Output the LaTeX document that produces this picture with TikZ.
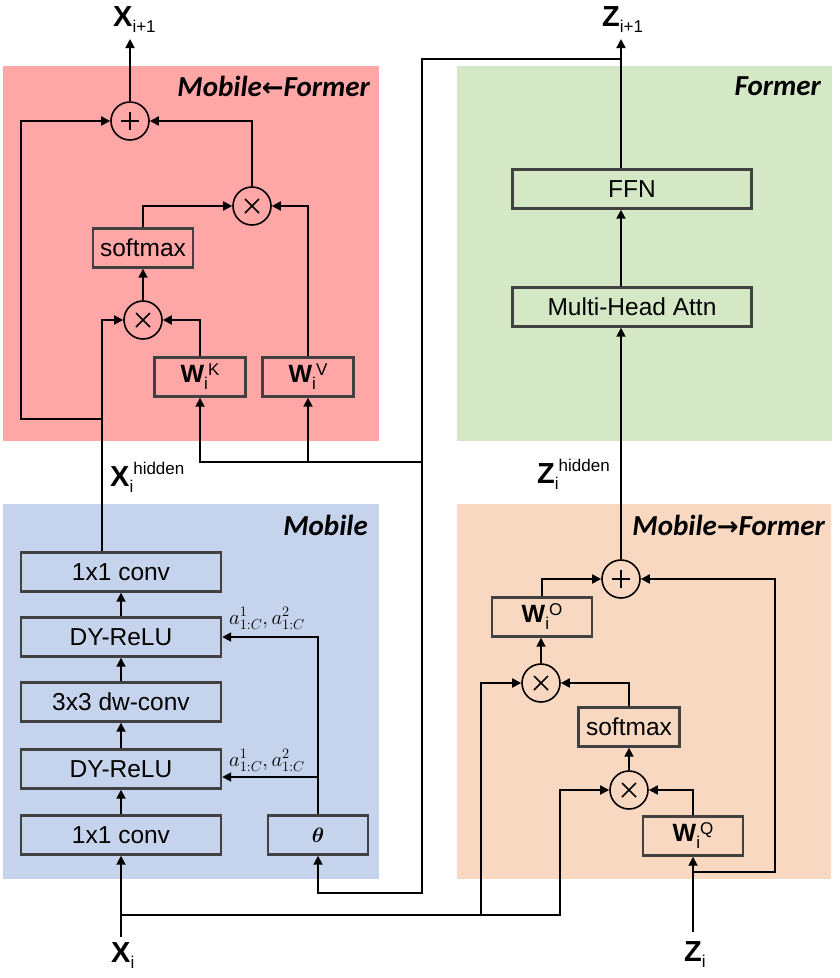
\documentclass[tikz,border=0pt]{standalone}
\usepackage{fontspec}
\usepackage{bm}
\setmainfont{Liberation Sans}
\newfontfamily\calib{Carlito}
\newfontfamily\djv{DejaVu Sans}
\usetikzlibrary{arrows.meta}
\definecolor{redbg}{HTML}{FFA6A6}
\definecolor{greenbg}{HTML}{D5E8C6}
\definecolor{bluebg}{HTML}{C6D3EC}
\definecolor{orangebg}{HTML}{F8D8C1}
\definecolor{boxc}{HTML}{414141}
\newcommand{\bigsym}[3]{{\fontsize{29}{29}\selectfont\bfseries #1}\raisebox{-6pt}{\fontsize{17}{17}\selectfont #2}\raisebox{12pt}{\fontsize{17}{17}\selectfont #3}}
\newcommand{\wsym}[1]{{\fontsize{25}{25}\selectfont\bfseries W}\raisebox{-7pt}{\fontsize{17}{17}\selectfont i}\raisebox{7pt}{\fontsize{17}{17}\selectfont #1}}
\begin{document}
\begin{tikzpicture}[x=1pt,y=-1pt,
  arr/.style={-{Triangle[length=9pt,width=9pt]}, line width=1.8pt},
  box/.style={draw=boxc, line width=2.4pt, inner sep=0pt, minimum height=39pt, font=\fontsize{24.5}{24.5}\selectfont},
  opc/.style={circle, draw=black, line width=1.6pt, minimum size=38pt, inner sep=0pt},
  plusop/.style={opc, path picture={\draw[line width=1.6pt] ([xshift=-9pt]path picture bounding box.center) -- ([xshift=9pt]path picture bounding box.center); \draw[line width=1.6pt] ([yshift=-9pt]path picture bounding box.center) -- ([yshift=9pt]path picture bounding box.center);}},
  timesop/.style={opc, path picture={\draw[line width=1.6pt] ([shift={(-7pt,-7pt)}]path picture bounding box.center) -- ([shift={(7pt,7pt)}]path picture bounding box.center); \draw[line width=1.6pt] ([shift={(-7pt,7pt)}]path picture bounding box.center) -- ([shift={(7pt,-7pt)}]path picture bounding box.center);}},
  ptitle/.style={font=\calib\bfseries\itshape\fontsize{29}{29}\selectfont, anchor=base east, inner sep=0pt},
  lab/.style={anchor=base west, inner sep=0pt}
]
\useasboundingbox (0,0) rectangle (840,978);
% panels
\fill[redbg] (3,66) rectangle (379,441);
\fill[greenbg] (457,66) rectangle (832,441);
\fill[bluebg] (3,504) rectangle (379,879);
\fill[orangebg] (457,504) rectangle (831,879);
% titles
\node[ptitle] (tMF) at (370,96) {Mobile{\djv\fontsize{26}{26}\selectfont\itshape ←}Former};
\node[ptitle] (tF) at (821,95) {Former};
\node[ptitle] (tM) at (368,535) {Mobile};
\node[ptitle] (tMtF) at (825,535) {Mobile{\djv\fontsize{26}{26}\selectfont\itshape →}Former};
% red nodes
\node[plusop] (pR) at (130,121) {};
\node[timesop] (mR1) at (252,206) {};
\node[box, minimum width=100pt] (smR) at (143,248) {softmax};
\node[timesop] (mR2) at (143,320) {};
\node[box, minimum width=91pt] (wK) at (200,377) {\wsym{K}};
\node[box, minimum width=91pt] (wV) at (308,377) {\wsym{V}};
% green nodes
\node[box, minimum width=239pt] (ffn) at (632,189) {FFN};
\node[box, minimum width=239pt] (mha) at (632,307) {Multi-Head Attn};
% blue nodes
\node[box, minimum width=200pt] (conv2) at (121,572) {1x1 conv};
\node[box, minimum width=200pt] (dy2) at (121,637) {DY-ReLU};
\node[box, minimum width=200pt] (dw) at (121,702) {3x3 dw-conv};
\node[box, minimum width=200pt] (dy1) at (121,769) {DY-ReLU};
\node[box, minimum width=200pt] (conv1) at (121,835) {1x1 conv};
\node[box, minimum width=100pt] (theta) at (318,835) {\fontsize{21}{21}\selectfont$\bm{\theta}$};
% orange nodes
\node[plusop] (pO) at (621,579) {};
\node[box, minimum width=100pt] (wO) at (542,617) {\wsym{O}};
\node[timesop] (mO1) at (541,683) {};
\node[box, minimum width=101pt] (smO) at (629,727) {softmax};
\node[timesop] (mO2) at (629,790) {};
\node[box, minimum width=100pt] (wQ) at (693,836) {\wsym{Q}};
% labels
\node[lab] (lXo) at (113,26) {\bigsym{X}{i+1}{}};
\node[lab] (lZo) at (602,26) {\bigsym{Z}{i+1}{}};
\node[lab] (lXh) at (110,486) {\bigsym{X}{i}{hidden}};
\node[lab] (lZh) at (537,483) {\bigsym{Z}{i}{hidden}};
\node[lab] (lXi) at (111,962) {\bigsym{X}{i}{}};
\node[lab] (lZi) at (684,961) {\bigsym{Z}{i}{}};
\node[lab] (aU) at (229,624) {\fontsize{22}{22}\selectfont$a^1_{1:C}, a^2_{1:C}$};
\node[lab] (aL) at (229,766) {\fontsize{22}{22}\selectfont$a^1_{1:C}, a^2_{1:C}$};
% coordinates
\coordinate (xo) at (130,39);
\coordinate (zo) at (621,39);
\coordinate (zb) at (621,59);
\coordinate (jR) at (102,419);
\coordinate (kv) at (422,462);
\coordinate (kb) at (422,893);
\coordinate (xi) at (121,937);
\coordinate (xb) at (121,915);
\coordinate (xc) at (481,915);
\coordinate (xd) at (560,915);
\coordinate (zi) at (693,932);
\coordinate (zb2) at (693,872);
\coordinate (zr) at (775,872);
% red connectors
\draw[arr] (pR.north) -- (xo);
\draw[arr] (mR1.north) |- (pR.east);
\draw[arr] (jR) -- ++(-81,0) |- (pR.west);
\draw[arr] (conv2.north -| jR) |- (mR2.west);
\draw[arr] (mR2.north) -- (smR.south);
\draw[arr] (smR.north) |- (mR1.west);
\draw[arr] (wK.north) |- (mR2.east);
\draw[arr] (wV.north) |- (mR1.east);
% former connectors
\draw[arr] (ffn.north -| zo) -- (zo);
\draw[arr] (mha.north -| zo) -- (ffn.south -| zo);
\draw[arr] (pO.north) -- (mha.south -| pO);
% feedback from former
\draw[arr] (zb) -| (kv) -- (kb) -| (theta.south);
\draw[arr] (kv) -| (wK.south);
\draw[arr] (wV.south |- kv) -- (wV.south);
% mobile connectors
\draw[arr] (xi) -- (conv1.south);
\draw[arr] (conv1.north) -- (dy1.south);
\draw[arr] (dy1.north) -- (dw.south);
\draw[arr] (dw.north) -- (dy2.south);
\draw[arr] (dy2.north) -- (conv2.south);
\draw[arr] (theta.north) |- (dy2.east);
\draw[arr] ([yshift=-8pt]dy1.east -| theta.north) -- ([yshift=-8pt]dy1.east);
% mobile->former connectors
\draw[arr] (xb) -- (xd) |- (mO2.west);
\draw[arr] (xc) |- (mO1.west);
\draw[arr] (zi) -- (wQ.south);
\draw[arr] (zb2) -- (zr) |- (pO.east);
\draw[arr] (wQ.north) |- (mO2.east);
\draw[arr] (mO2.north) -- (smO.south);
\draw[arr] (smO.north) |- (mO1.east);
\draw[arr] (mO1.north) -- (wO.south -| mO1);
\draw[arr] (wO.north) |- (pO.west);
\end{tikzpicture}
\end{document}
